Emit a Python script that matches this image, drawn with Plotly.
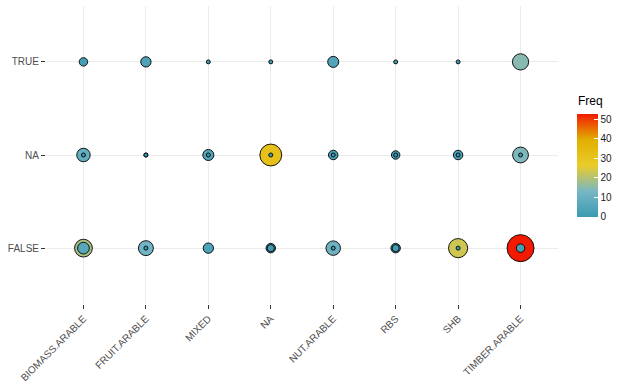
import plotly.graph_objects as go
import numpy as np

categories = ["BIOMASS.ARABLE", "FRUIT.ARABLE", "MIXED", "NA", "NUT.ARABLE", "RBS", "SHB", "TIMBER.ARABLE"]
rows = ["FALSE", "NA", "TRUE"]

# first (outer) layer of Freq values, per row
outer_false = [19, 12, 4, 3, 11, 3, 23, 53]
outer_na = [9, 0, 5, 32, 3, 2, 3, 14]
outer_true = [2, 4, 0, 0, 5, 0, 0, 15]
# second (inner) layer drawn on top; None = no point
inner_false = [6, 0, None, 1, 0, 1, 0, 2]
inner_na = [0, 0, 0, 0, 0, 0, 0, 0]
inner_true = [None] * 8

colorbar_ticks = [0, 10, 20, 30, 40, 50]
fmax = 53
zissou = ["#3B9AB2", "#78B7C5", "#EBCC2A", "#E1AF00", "#F21A00"]
colorscale = [[i / 4, c] for i, c in enumerate(zissou)]


def size_of(f):
    return 4 + 23 * np.sqrt(f / fmax)


def layer(vals_by_row):
    xs, ys, fs = [], [], []
    for r, vals in zip(rows, vals_by_row):
        for c, v in zip(categories, vals):
            if v is None:
                continue
            xs.append(c)
            ys.append(r)
            fs.append(v)
    return xs, ys, fs


fig = go.Figure()
for i, data in enumerate([[outer_false, outer_na, outer_true], [inner_false, inner_na, inner_true]]):
    xs, ys, fs = layer(data)
    fig.add_trace(go.Scatter(
        x=xs, y=ys, mode="markers",
        marker=dict(size=[size_of(f) for f in fs], color=fs, coloraxis="coloraxis", opacity=1,
                    line=dict(color="black", width=0.9)),
        showlegend=False, hoverinfo="x+y+text", text=[str(f) for f in fs],
    ))

axis_common = dict(showgrid=True, gridcolor="#EBEBEB", gridwidth=1, zeroline=False,
                   ticks="outside", ticklen=4, tickcolor="#333333", tickwidth=1,
                   tickfont=dict(family="Liberation Sans, Arial, sans-serif", size=10, color="#4D4D4D"),
                   showline=False, automargin=False)

fig.update_layout(
    width=629, height=389,
    margin=dict(l=46, r=71, t=6, b=85, autoexpand=False),
    plot_bgcolor="white", paper_bgcolor="white",
    xaxis=dict(type="category", categoryorder="array", categoryarray=categories,
               range=[-0.6, 7.6], tickangle=-45, **axis_common),
    yaxis=dict(type="category", categoryorder="array", categoryarray=rows,
               range=[-0.6, 2.6], **axis_common),
    coloraxis=dict(
        colorscale=colorscale, cmin=0, cmax=fmax,
        colorbar=dict(
            title=dict(text=""),
            xref="container", x=577 / 629, xanchor="left",
            yref="container", y=0.2733, yanchor="bottom",
            lenmode="pixels", len=103, thickness=21, thicknessmode="pixels",
            xpad=0, ypad=0, outlinewidth=0,
            tickvals=colorbar_ticks, ticks="inside", ticklen=4, tickcolor="white",
            tickfont=dict(family="Liberation Sans, Arial, sans-serif", size=10, color="#1A1A1A"),
        ),
    ),
    annotations=[dict(text="Freq", xref="paper", yref="paper", x=(576 - 46) / 512, y=(304 - 101) / 298,
                      xanchor="left", yanchor="middle", showarrow=False,
                      font=dict(family="Liberation Sans, Arial, sans-serif", size=12, color="black"))],
    font=dict(family="Liberation Sans, Arial, sans-serif"),
)

fig.write_html("out.html", config={"displayModeBar": False},
               post_script="document.body.style.margin='0';document.body.style.padding='0';")
